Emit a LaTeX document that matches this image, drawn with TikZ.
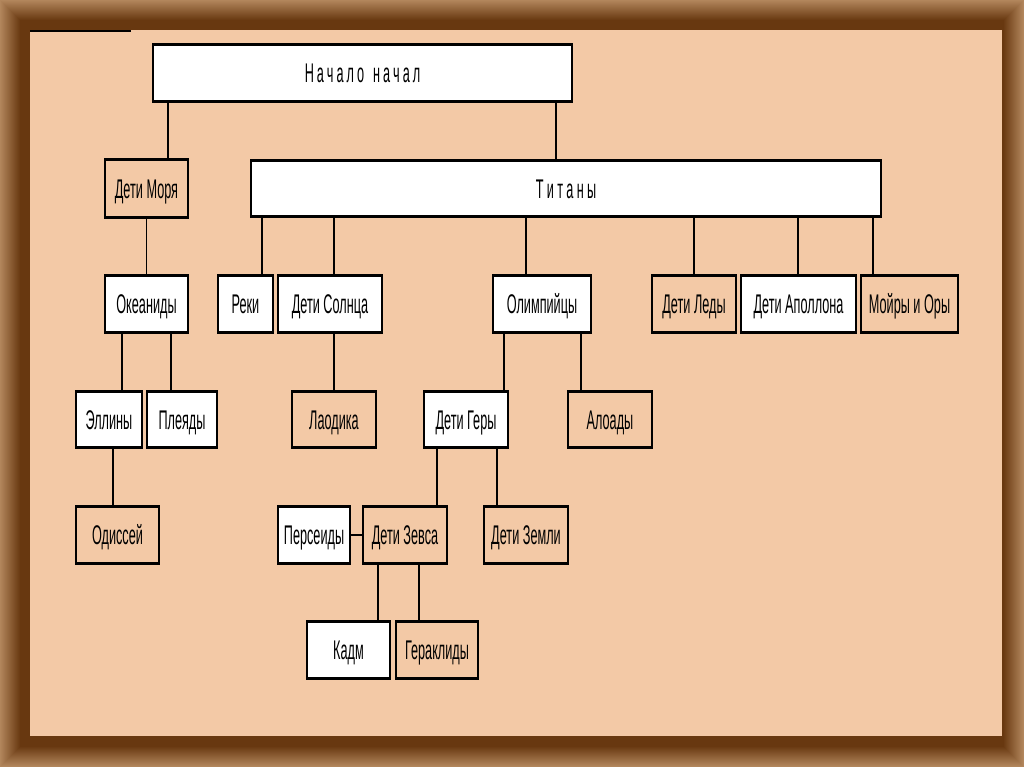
\documentclass[tikz,border=0pt]{standalone}
\usepackage{fontspec}
\newfontfamily\nf[FakeStretch=0.47]{Liberation Sans}
\definecolor{peach}{RGB}{243,201,166}
\definecolor{fdark}{RGB}{104,56,16}
\definecolor{flight}{RGB}{178,134,92}
\begin{document}
\begin{tikzpicture}[x=1pt,y=-1pt,
  bx/.style={draw, line width=1.2pt, inner sep=0pt, font=\nf\fontsize{27}{27}\selectfont,
    minimum height=56pt, text height=19.3pt, text depth=0pt},
  wb/.style={fill=white},
  pb/.style={fill=peach},
  ln/.style={line width=1.1pt}]
\useasboundingbox (0,0) rectangle (1024,767);
% frame
\foreach \i in {0,...,20}{
  \pgfmathtruncatemacro\p{\i*5}
  \fill[fdark!\p!flight] (\i,\i) rectangle (1024-\i,767-\i);
}
\fill[peach] (30,30) rectangle (1002,736);
\draw[line width=2pt] (30,31) -- (131,31);
% boxes
\node[bx,wb,minimum width=419pt] (nach) at (362.5,73) {Н\kern3ptа\kern3ptч\kern3ptа\kern3ptл\kern3ptо\hspace{9pt}н\kern3ptа\kern3ptч\kern3ptа\kern3ptл};
\node[bx,wb,minimum width=630pt,minimum height=55pt] (tit) at (566,188.5) {Т\kern3.3ptи\kern3.3ptт\kern3.3ptа\kern3.3ptн\kern3.3ptы};
\node[bx,pb,minimum width=83pt,minimum height=57pt] (dm) at (146.5,188.5) {Дети Моря};
\node[bx,wb,minimum width=83pt] (oke) at (146.5,304) {Океаниды};
\node[bx,wb,minimum width=55pt] (reki) at (245.5,304) {Реки};
\node[bx,wb,minimum width=104pt] (sol) at (330,304) {Дети Солнца};
\node[bx,wb,minimum width=98pt] (olim) at (542,304) {Олимпийцы};
\node[bx,pb,minimum width=84pt] (led) at (694,304) {Дети Леды};
\node[bx,wb,minimum width=115pt] (apo) at (798.5,304) {Дети Аполлона};
\node[bx,pb,minimum width=97pt] (moi) at (909.5,304) {Мойры и Оры};
\node[bx,wb,minimum width=66pt,minimum height=55pt] (ell) at (109,419.5) {Эллины};
\node[bx,wb,minimum width=70pt,minimum height=55pt] (ple) at (182,419.5) {Плеяды};
\node[bx,pb,minimum width=84pt,minimum height=55pt] (lao) at (334,419.5) {Лаодика};
\node[bx,wb,minimum width=84pt,minimum height=55pt] (ger) at (466,419.5) {Дети Геры};
\node[bx,pb,minimum width=84pt,minimum height=55pt] (alo) at (610,419.5) {Алоады};
\node[bx,pb,minimum width=83pt] (odi) at (117.5,535) {Одиссей};
\node[bx,wb,minimum width=72pt] (per) at (314,535) {Персеиды};
\node[bx,pb,minimum width=84pt] (zev) at (405,535) {Дети Зевса};
\node[bx,pb,minimum width=84pt] (zem) at (526,535) {Дети Земли};
\node[bx,wb,minimum width=83pt] (kad) at (348.5,650) {Кадм};
\node[bx,pb,minimum width=82pt] (ger2) at (437,650) {Гераклиды};
% thick top and bottom edges
\foreach \n in {nach,tit,dm,oke,reki,sol,olim,led,apo,moi,ell,ple,lao,ger,alo,odi,per,zev,zem,kad,ger2}
  \draw[line width=2.6pt] (\n.north west) -- (\n.north east) (\n.south west) -- (\n.south east);
% connectors
\draw[ln] (nach.south -| 168,0) -- (dm.north -| 168,0);
\draw[ln] (nach.south -| 556,0) -- (tit.north -| 556,0);
\draw[ln] (tit.south -| 262,0) -- (reki.north -| 262,0);
\draw[ln] (tit.south -| 334,0) -- (sol.north -| 334,0);
\draw[ln] (tit.south -| 526,0) -- (olim.north -| 526,0);
\draw[ln] (tit.south -| 694,0) -- (led.north -| 694,0);
\draw[ln] (tit.south -| 798,0) -- (apo.north -| 798,0);
\draw[ln] (tit.south -| 873,0) -- (moi.north -| 873,0);
\draw[ln] (dm.south) -- (oke.north);
\draw[ln] (oke.south -| 122,0) -- (ell.north -| 122,0);
\draw[ln] (oke.south -| 171,0) -- (ple.north -| 171,0);
\draw[ln] (ell.south -| 113,0) -- (odi.north -| 113,0);
\draw[ln] (sol.south -| 334,0) -- (lao.north -| 334,0);
\draw[ln] (olim.south -| 504,0) -- (ger.north -| 504,0);
\draw[ln] (olim.south -| 581,0) -- (alo.north -| 581,0);
\draw[ln] (ger.south -| 437,0) -- (zev.north -| 437,0);
\draw[ln] (ger.south -| 497,0) -- (zem.north -| 497,0);
\draw[ln] (per.east) -- (zev.west);
\draw[ln] (zev.south -| 378,0) -- (kad.north -| 378,0);
\draw[ln] (zev.south -| 419,0) -- (ger2.north -| 419,0);
\end{tikzpicture}
\end{document}
